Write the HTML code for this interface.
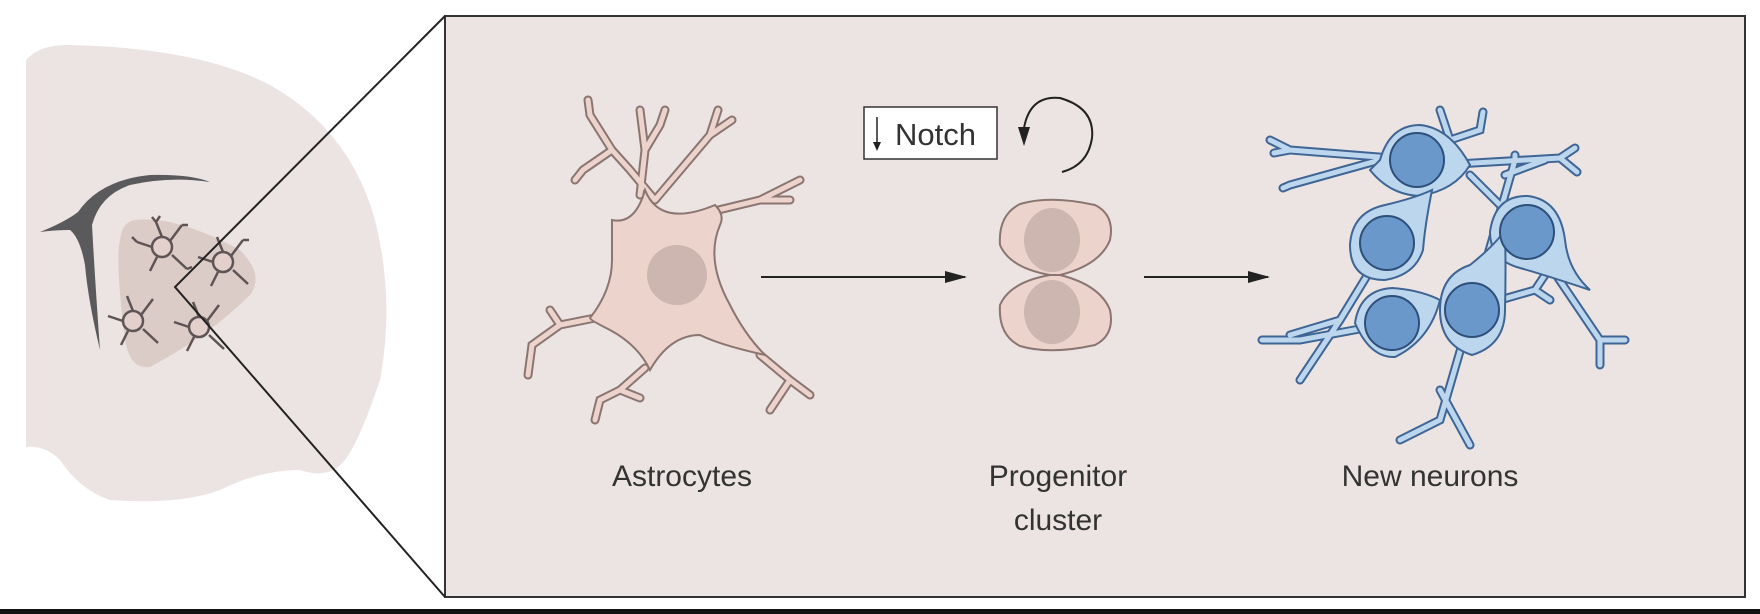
<!DOCTYPE html>
<html><head><meta charset="utf-8"><style>
html,body{margin:0;padding:0;background:#fff;}
svg{display:block;}
text{font-family:"Liberation Sans",sans-serif;fill:#333;}
</style></head><body>
<svg width="1760" height="614" viewBox="0 0 1760 614" xmlns="http://www.w3.org/2000/svg">
<defs>
<marker id="ah2" markerWidth="22" markerHeight="12" refX="20" refY="6" orient="auto" markerUnits="userSpaceOnUse"><path d="M0,0 L22,6 L0,12 Z" fill="#222"/></marker>
</defs>
<!-- brain -->
<path d="M26,60 Q40,44 70,45 Q200,48 270,85 Q350,130 375,220 Q395,300 380,380 Q360,440 345,460 Q330,480 300,470 Q260,470 220,490 Q180,505 110,500 Q80,490 60,460 Q45,445 26,447 Z" fill="#ece4e2"/>
<path d="M40,232 Q65,222 78,212 Q100,180 150,175 Q190,174 210,182 Q170,176 130,185 Q100,195 92,225 Q95,280 100,350 Q88,300 85,265 Q80,238 70,230 Q55,230 40,232 Z" fill="#5a5a5c"/>
<path d="M135,220 Q175,215 240,250 Q265,275 250,295 Q210,335 150,367 Q130,370 125,340 Q115,260 120,240 Q122,222 135,220 Z" fill="#dcccc7"/>
<g stroke="#5e5456" stroke-width="2.5" fill="none">
<g transform="translate(162,247)"><path d="M0,-10 L-6,-25 M-6,-25 L-10,-30 M-6,-25 L-2,-31 M8,-6 L20,-22 M20,-22 L26,-22 M-10,0 L-25,-5 M-25,-5 L-30,-10 M-5,10 L-12,24 M10,8 L25,22 M25,22 L30,20"/><circle r="10" fill="#e3cfcc"/></g>
<g transform="translate(223,262)"><path d="M0,-10 L-6,-25 M8,-6 L20,-22 M20,-22 L26,-22 M-10,0 L-25,-5 M-5,10 L-12,24 M10,8 L25,22"/><circle r="10" fill="#e3cfcc"/></g>
<g transform="translate(133,321)"><path d="M0,-10 L-6,-25 M8,-6 L20,-22 M-10,0 L-25,-5 M-5,10 L-12,24 M10,8 L25,22"/><circle r="10" fill="#e3cfcc"/></g>
<g transform="translate(199,327)"><path d="M0,-10 L-6,-25 M8,-6 L20,-22 M-10,0 L-25,-5 M-5,10 L-12,24 M10,8 L25,22"/><circle r="10" fill="#e3cfcc"/></g>
</g>
<!-- main box -->
<rect x="445" y="16" width="1300" height="581" fill="#ebe4e2" stroke="#333" stroke-width="2"/>
<polyline points="445,16 175,287 445,597" fill="none" stroke="#222" stroke-width="2"/>
<rect x="0" y="609" width="1760" height="5" fill="#111"/>
<!-- astrocyte -->
<g stroke-linecap="round" fill="none">
<g stroke="#8b7571" stroke-width="9">
<path d="M655,200 L630,170 L612,150 L583,170 L575,180 M612,150 L590,115 L588,100 M655,200 L710,135 L732,120 M710,135 L718,110"/>
<path d="M710,212 L760,200 L800,180 M760,200 L790,200"/>
<path d="M595,318 L560,325 L532,345 L528,375 M560,325 L550,310"/>
<path d="M645,368 L620,390 L600,400 L595,420 M620,390 L640,398"/>
<path d="M760,355 L790,380 L810,395 M790,380 L770,410"/>
<path d="M640,195 L645,150 L640,110 M645,150 L660,125 L665,110"/>
</g>
<g stroke="#ecd4cd" stroke-width="5">
<path d="M655,200 L630,170 L612,150 L583,170 L575,180 M612,150 L590,115 L588,100 M655,200 L710,135 L732,120 M710,135 L718,110"/>
<path d="M710,212 L760,200 L800,180 M760,200 L790,200"/>
<path d="M595,318 L560,325 L532,345 L528,375 M560,325 L550,310"/>
<path d="M645,368 L620,390 L600,400 L595,420 M620,390 L640,398"/>
<path d="M760,355 L790,380 L810,395 M790,380 L770,410"/>
<path d="M640,195 L645,150 L640,110 M645,150 L660,125 L665,110"/>
</g>
</g>
<path d="M612,220 Q635,225 645,190 Q660,228 715,205 Q725,215 720,225 Q705,260 730,305 Q745,335 765,355 Q720,345 700,335 Q670,335 650,370 Q638,345 610,330 Q590,320 590,318 Q612,290 612,260 Q612,240 612,220 Z" fill="#ecd4cd" stroke="#8b7571" stroke-width="2"/>
<ellipse cx="677" cy="275" rx="30" ry="30" fill="#cdb5b0"/>
<!-- arrows -->
<line x1="761" y1="277" x2="965" y2="277" stroke="#222" stroke-width="2" marker-end="url(#ah2)"/>
<line x1="1144" y1="277" x2="1268" y2="277" stroke="#222" stroke-width="2" marker-end="url(#ah2)"/>
<!-- progenitor -->
<path d="M1020,204 Q1050,195 1095,205 Q1115,215 1110,240 Q1100,265 1060,275 L1050,275 Q1010,268 1000,245 Q998,215 1020,204 Z" fill="#ecd4cd" stroke="#8b7571" stroke-width="2"/>
<path d="M1020,346 Q1050,355 1095,345 Q1115,335 1110,310 Q1100,285 1060,275 L1050,275 Q1010,282 1000,305 Q998,335 1020,346 Z" fill="#ecd4cd" stroke="#8b7571" stroke-width="2"/>
<ellipse cx="1052" cy="240" rx="28" ry="32" fill="#cdb5b0"/>
<ellipse cx="1052" cy="312" rx="28" ry="32" fill="#cdb5b0"/>
<!-- notch -->
<rect x="864" y="107" width="133" height="52" fill="#fff" stroke="#333" stroke-width="1.5"/>
<line x1="877" y1="117" x2="877" y2="148" stroke="#222" stroke-width="1.5"/>
<path d="M873,142 L877,151 L881,142 Z" fill="#222"/>
<text x="895" y="145" font-size="31">Notch</text>
<path d="M1024,128 Q1030,95 1060,98 Q1095,108 1092,138 Q1088,165 1062,172" fill="none" stroke="#222" stroke-width="2"/>
<path d="M1018,127 L1024,146 L1030,127 Z" fill="#222"/>
<!-- neurons -->
<g stroke-linecap="round" fill="none">
<g stroke="#3f6594" stroke-width="9">
<path d="M1417,160 L1290,150 L1270,140 M1290,150 L1274,153 M1380,160 L1290,185 L1283,188"/>
<path d="M1417,160 L1450,140 L1440,110 M1450,140 L1480,130 L1483,112"/>
<path d="M1440,165 L1560,158 L1575,148 M1560,158 L1577,172"/>
<path d="M1387,243 L1340,320 L1290,335 M1340,320 L1300,380"/>
<path d="M1392,323 L1300,340 L1262,340"/>
<path d="M1472,310 L1440,420 L1400,440 M1440,390 L1470,445"/>
<path d="M1500,300 L1535,290 L1545,275 M1535,290 L1550,300"/>
<path d="M1527,232 L1600,340 L1625,340 M1600,340 L1600,365"/>
<path d="M1472,310 L1515,160 L1515,155 M1505,175 L1545,160"/>
<path d="M1527,232 L1470,175"/>
</g>
<g stroke="#bcd6ee" stroke-width="5">
<path d="M1417,160 L1290,150 L1270,140 M1290,150 L1274,153 M1380,160 L1290,185 L1283,188"/>
<path d="M1417,160 L1450,140 L1440,110 M1450,140 L1480,130 L1483,112"/>
<path d="M1440,165 L1560,158 L1575,148 M1560,158 L1577,172"/>
<path d="M1387,243 L1340,320 L1290,335 M1340,320 L1300,380"/>
<path d="M1392,323 L1300,340 L1262,340"/>
<path d="M1472,310 L1440,420 L1400,440 M1440,390 L1470,445"/>
<path d="M1500,300 L1535,290 L1545,275 M1535,290 L1550,300"/>
<path d="M1527,232 L1600,340 L1625,340 M1600,340 L1600,365"/>
<path d="M1472,310 L1515,160 L1515,155 M1505,175 L1545,160"/>
<path d="M1527,232 L1470,175"/>
</g>
</g>
<g fill="#bcd6ee" stroke="#3f6594" stroke-width="2">
<path d="M1380,160 Q1390,125 1420,125 Q1450,128 1470,165 Q1455,190 1420,196 Q1390,195 1370,170 Z"/>
<path d="M1350,245 Q1352,212 1385,205 Q1415,198 1432,190 Q1425,225 1423,250 Q1415,275 1385,280 Q1350,280 1350,245 Z"/>
<path d="M1490,232 Q1495,195 1528,196 Q1560,200 1565,240 Q1568,270 1590,290 Q1545,275 1520,268 Q1490,260 1490,232 Z"/>
<path d="M1355,323 Q1360,290 1392,288 Q1420,290 1440,300 Q1430,340 1395,357 Q1370,358 1355,323 Z"/>
<path d="M1440,310 Q1440,275 1470,265 Q1495,245 1505,230 Q1506,270 1505,310 Q1505,345 1472,355 Q1440,345 1440,310 Z"/>
</g>
<g fill="#6a98cb" stroke="#2e4f7a" stroke-width="2">
<circle cx="1417" cy="160" r="27"/>
<circle cx="1387" cy="243" r="27"/>
<circle cx="1527" cy="232" r="27"/>
<circle cx="1392" cy="323" r="27"/>
<circle cx="1472" cy="310" r="27"/>
</g>
<!-- labels -->
<g font-size="30" text-anchor="middle">
<text x="682" y="486">Astrocytes</text>
<text x="1058" y="486">Progenitor</text>
<text x="1058" y="530">cluster</text>
<text x="1430" y="486">New neurons</text>
</g>
</svg>
</body></html>
